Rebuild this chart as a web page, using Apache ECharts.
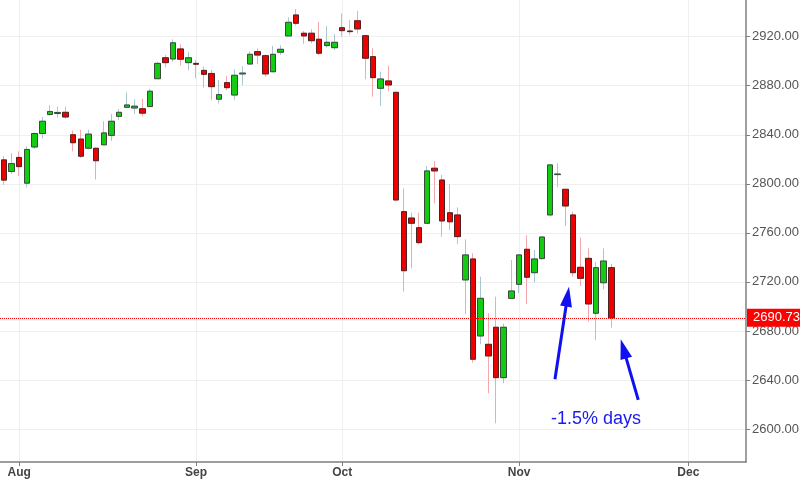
<!DOCTYPE html>
<html>
<head>
<meta charset="utf-8">
<script src="https://cdn.jsdelivr.net/npm/echarts@6/dist/echarts.min.js"></script>
<style>html,body{margin:0;padding:0;background:#fff}#c{width:800px;height:482px}</style>
</head>
<body>
<div id="c"></div>
<script>
const dates = ['2018-07-30','2018-07-31',
'2018-08-01','2018-08-02','2018-08-03','2018-08-06','2018-08-07','2018-08-08','2018-08-09','2018-08-10','2018-08-13','2018-08-14','2018-08-15','2018-08-16','2018-08-17','2018-08-20','2018-08-21','2018-08-22','2018-08-23','2018-08-24','2018-08-27','2018-08-28','2018-08-29','2018-08-30','2018-08-31',
'2018-09-04','2018-09-05','2018-09-06','2018-09-07','2018-09-10','2018-09-11','2018-09-12','2018-09-13','2018-09-14','2018-09-17','2018-09-18','2018-09-19','2018-09-20','2018-09-21','2018-09-24','2018-09-25','2018-09-26','2018-09-27','2018-09-28',
'2018-10-01','2018-10-02','2018-10-03','2018-10-04','2018-10-05','2018-10-08','2018-10-09','2018-10-10','2018-10-11','2018-10-12','2018-10-15','2018-10-16','2018-10-17','2018-10-18','2018-10-19','2018-10-22','2018-10-23','2018-10-24','2018-10-25','2018-10-26','2018-10-29','2018-10-30','2018-10-31',
'2018-11-01','2018-11-02','2018-11-05','2018-11-06','2018-11-07','2018-11-08','2018-11-09','2018-11-12','2018-11-13','2018-11-14','2018-11-15','2018-11-16','2018-11-19',
'2018-11-20','2018-11-21','2018-11-22','2018-11-23','2018-11-26','2018-11-27','2018-11-28','2018-11-29','2018-11-30',
'2018-12-03','2018-12-04','2018-12-05','2018-12-06','2018-12-07','2018-12-10','2018-12-11','2018-12-12'];

const openV = [2819.5,2810,
2821.5,2800.5,2830,2841,2856.5,2857.3,2858.3,2840,2836.5,2829,2829,2831.8,2839.5,2855,2862.4,2861.8,2861.2,2863,2885.7,2902.8,2901.8,2910,2898.8,
2898.2,2892.5,2890,2869,2882.5,2872.4,2889.6,2897.7,2907.8,2904.5,2891.4,2907.3,2920.6,2937.7,2922.8,2922.8,2917.9,2912.7,2911,
2927.3,2924.6,2933,2920.8,2903.7,2877.9,2883.9,2874.6,2777.3,2772.1,2764.2,2767.8,2812.7,2803.1,2776.4,2774.6,2721.6,2738.7,2675.9,2669.1,2683,2641.9,2706.6,
2718,2746.6,2727.5,2739,2774.6,2807.5,2795.5,2774.6,2731.9,2739.2,2694.4,2719.3,2731.6];
const highV = [2822.5,2825,
2826.5,2830.5,2842,2854.5,2864,2863,2863,2843.5,2844,2844,2829.5,2851,2857,2861,2874.5,2868.8,2869.5,2877.5,2899.5,2905,2917.8,2913.8,2907.5,
2901,2895.5,2893,2884.5,2888,2893.4,2895.8,2907.8,2910.3,2905.5,2912.5,2913,2935.8,2942.5,2924.6,2926,2932,2928.7,2922.2,
2939,2933.6,2941,2921.3,2910.5,2891.5,2896.3,2875,2796.3,2776.4,2776.4,2814.5,2818.6,2807.2,2799.6,2780.8,2754.7,2743.3,2724.2,2694.4,2708,2686,2737.9,
2742.2,2758,2746,2757,2815.8,2816.7,2795.6,2777.3,2756.4,2747.4,2736,2747.4,2734.6];
const lowV = [2799,2808,
2806.5,2797,2828.5,2837,2855.5,2854,2853,2826.5,2821,2828,2803.5,2831.5,2835,2852,2861.8,2857,2855,2862.8,2885.5,2895,2899.5,2896.5,2892.5,
2886,2878.5,2868.5,2865.5,2876.5,2868.5,2880.5,2897.2,2897.5,2887.2,2891,2905,2920.4,2929,2914.2,2914.5,2905,2911,2909,
2920,2921.2,2922.7,2885.3,2871,2863.5,2875.5,2785.5,2712,2731,2750.5,2767.5,2784,2756.9,2762.3,2751,2693.8,2654.1,2669.1,2629.1,2604.7,2637.3,2706.4,
2710.7,2702,2719.6,2738,2774.4,2797.2,2765.6,2724.2,2716.7,2687.6,2672.6,2714,2682.7];
const closeV = [2803,2816.5,
2814,2828,2841,2851,2859,2858.2,2854.5,2833.5,2822.5,2840.5,2818.8,2841.5,2851,2858.3,2864.3,2863.3,2857.6,2875.5,2898.2,2898.8,2915,2901.6,2902.8,
2897.5,2889.3,2879.2,2872.7,2878.4,2888.5,2890.3,2905.6,2905,2889.6,2905.6,2909.7,2931.7,2930.9,2920.6,2916.7,2906.5,2915.4,2915.4,
2924.9,2924.1,2926.3,2902.4,2886.6,2885.5,2880.6,2786.8,2729.1,2767.8,2752,2810.5,2810.5,2769.7,2769,2756.9,2742,2656.9,2706.6,2659.6,2641.9,2683,2712.6,
2742,2723.8,2738.7,2756.6,2815.4,2808,2781.9,2727.5,2722.9,2702,2731.6,2737,2690.73];

const yTicks = [2600,2640,2680,2720,2760,2800,2840,2880,2920];
const monthStarts = ['2018-08-01','2018-09-04','2018-10-01','2018-11-01','2018-12-03'];
const monthNames = ['Aug','Sep','Oct','Nov','Dec'];
const lastPrice = 2690.73;
const noteText = '-1.5% days';
// annotation arrows in (category position, value) space: tail -> head centre
const arrow1 = [[71.66, 2640.6], [73.29, 2708.0]];
const arrow2 = [[82.49, 2623.7], [80.57, 2665.4]];

const fullData = openV.map((o, i) => [o, closeV[i], lowV[i], highV[i]]);
const bodyData = openV.map((o, i) => [o, closeV[i], Math.min(o, closeV[i]), Math.max(o, closeV[i])]);

const isMonth = (idx, val) => monthStarts.indexOf(val) >= 0;

const chart = echarts.init(document.getElementById('c'), null, {renderer: 'canvas'});
chart.setOption({
  animation: false,
  textStyle: {fontFamily: '"Liberation Sans", Arial, sans-serif'},
  grid: {left: 0, right: 54, top: 0, bottom: 20, containLabel: false, outerBoundsMode: 'none'},
  xAxis: [{
    type: 'category',
    data: dates,
    boundaryGap: true,
    axisLine: {show: true, onZero: false, lineStyle: {color: '#7f7f7f', width: 1.5}},
    axisTick: {show: true, interval: isMonth, alignWithLabel: true, length: 4, lineStyle: {color: '#7f7f7f'}},
    axisLabel: {interval: isMonth, formatter: v => monthNames[monthStarts.indexOf(v)] || '', color: '#444', fontSize: 12, fontWeight: 'bold', margin: 5},
    splitLine: {show: true, interval: isMonth, alignWithLabel: true, lineStyle: {color: '#efefef', width: 1}}
  }, {
    type: 'value',
    show: false,
    min: -0.5,
    max: dates.length - 0.5
  }],
  yAxis: {
    type: 'value',
    position: 'right',
    min: 2573.1,
    max: 2949.9,
    axisLine: {show: true, onZero: false, lineStyle: {color: '#7f7f7f', width: 1.5}},
    axisTick: {show: true, length: 4, customValues: yTicks, lineStyle: {color: '#7f7f7f'}},
    axisLabel: {customValues: yTicks, formatter: v => v.toFixed(2), color: '#555', fontSize: 13, margin: 6},
    splitLine: {show: true, lineStyle: {color: '#efefef', width: 1}}
  },
  graphic: [{
    type: 'text', left: 551, top: 410, z: 100,
    style: {text: noteText, fill: '#1a1aee', font: '18px "Liberation Sans", Arial, sans-serif'}
  }],
  series: [
    {
      type: 'candlestick',
      name: 'wick',
      data: fullData,
      barWidth: 6,
      itemStyle: {color: '#a9c7cf', color0: '#f6a6ad', borderColor: '#a9c7cf', borderColor0: '#f6a6ad', borderWidth: 1}
    },
    {
      type: 'candlestick',
      name: 'body',
      data: bodyData,
      barWidth: 6,
      itemStyle: {color: '#11cc11', color0: '#ee0000', borderColor: '#3b4a3b', borderColor0: '#4d2222', borderWidth: 1},
      markLine: {
        silent: true,
        symbol: ['none', 'none'],
        lineStyle: {color: '#ff0000', width: 1, type: 'dotted'},
        label: {show: true, position: 'end', distance: 1, formatter: () => lastPrice.toFixed(2), color: '#fff', backgroundColor: '#ff0000', padding: [3, 6, 2, 6], fontSize: 13},
        data: [{yAxis: lastPrice}]
      }
    },
    {
      type: 'line',
      name: 'notes',
      xAxisIndex: 1,
      data: [],
      markLine: {
        silent: true,
        symbol: ['none', 'triangle'],
        symbolSize: [12, 20],
        label: {show: false},
        lineStyle: {color: '#1010f0', width: 3, type: 'solid'},
        data: [
          [{coord: arrow1[0]}, {coord: arrow1[1]}],
          [{coord: arrow2[0]}, {coord: arrow2[1]}]
        ]
      }
    }
  ]
});
</script>
</body>
</html>
